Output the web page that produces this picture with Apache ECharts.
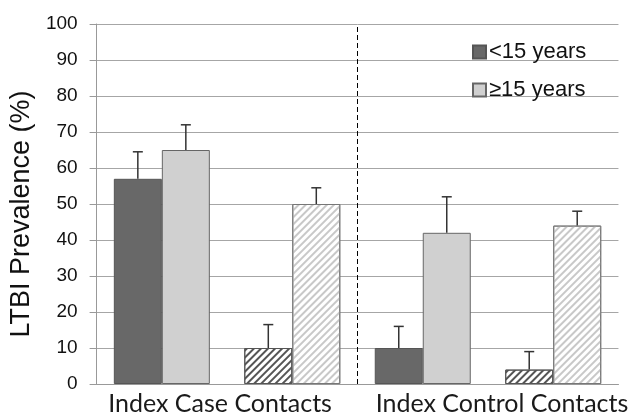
<!DOCTYPE html>
<html>
<head>
    <meta charset="utf-8">
    <title>LTBI Prevalence</title>
    <script src="https://cdn.jsdelivr.net/npm/echarts@6/dist/echarts.min.js"></script>
</head>
<body style="margin:0;">

<!-- chart container -->
<div id="chart1" style="width:630px;height:416px;"></div>

<script>
    // data
    var slots = ['case-solid', 'case-hatched', 'control-solid', 'control-hatched'];
    var groupLabels = ['Index Case Contacts', 'Index Control Contacts'];
    var seriesNames = ['<15 years', '\u226515 years'];
    var youngValues = [57, 10, 10, 4];
    var oldValues = [65, 50, 42, 44];
    var youngErrTop = [64.5, 16.5, 16, 9];
    var oldErrTop = [72, 54.5, 52, 48];
    var yTicks = [0, 10, 20, 30, 40, 50, 60, 70, 80, 90, 100];

    var barW = 48;
    var labelFont = {fontFamily: 'Lato', fontSize: 25, color: '#1a1a1a'};

    function hatch(color) {
        return {
            symbol: 'rect',
            symbolSize: 1,
            dashArrayX: [1, 0],
            dashArrayY: [2, 3],
            rotation: -Math.PI / 4,
            color: color
        };
    }

    // keep only solid slots (0,2) or hatched slots (1,3)
    function pick(values, hatched) {
        return values.map(function (v, i) { return (i % 2 === 1) === hatched ? v : '-'; });
    }

    function barSeries(name, stack, data, fill, border, stripe) {
        var style = {color: fill, borderColor: border, borderWidth: 1};
        if (stripe) style.decal = hatch(stripe);
        return {
            name: name,
            type: 'bar',
            xAxisIndex: 0,
            stack: stack,
            barWidth: barW,
            barGap: '0%',
            itemStyle: style,
            data: data
        };
    }

    function errorSeries(values, tops, shift) {
        return {
            type: 'custom',
            xAxisIndex: 0,
            silent: true,
            z: 5,
            data: values.map(function (v, i) { return [i, v, tops[i]]; }),
            renderItem: function (params, api) {
                var lo = api.coord([api.value(0), api.value(1)]);
                var hi = api.coord([api.value(0), api.value(2)]);
                var x = lo[0] + shift;
                var style = {stroke: '#333', lineWidth: 1.5};
                return {
                    type: 'group',
                    children: [
                        {type: 'line', shape: {x1: x, y1: lo[1], x2: x, y2: hi[1]}, style: style},
                        {type: 'line', shape: {x1: x - 5, y1: hi[1], x2: x + 5, y2: hi[1]}, style: style}
                    ]
                };
            }
        };
    }

    var myChart1 = echarts.init(document.getElementById('chart1'));

    myChart1.setOption({
        animation: false,
        backgroundColor: '#ffffff',
        grid: {left: 93, right: 10, top: 24, bottom: 32},
        legend: {
            orient: 'vertical',
            left: 467,
            top: 36,
            icon: 'rect',
            itemWidth: 13,
            itemHeight: 13,
            itemGap: 16,
            data: seriesNames,
            textStyle: {fontFamily: 'Liberation Sans', fontSize: 22, color: '#111', padding: [0, 0, 0, -2]}
        },
        xAxis: [{
            type: 'category',
            data: slots,
            axisLine: {lineStyle: {color: '#999'}},
            axisTick: {show: false},
            axisLabel: {show: false}
        }, {
            type: 'category',
            data: groupLabels,
            position: 'bottom',
            axisLine: {show: false},
            axisTick: {show: false},
            axisLabel: {
                interval: 0,
                margin: 7,
                formatter: function (v, i) { return i === 0 ? '{l|' + v + '}' : '{r|' + v + '}'; },
                rich: {
                    l: Object.assign({padding: [0, 14, 0, 0]}, labelFont),
                    r: Object.assign({padding: [0, 0, 0, 28]}, labelFont)
                }
            }
        }, {
            type: 'value',
            min: 0,
            max: 2,
            show: false
        }],
        yAxis: {
            type: 'value',
            min: 0,
            max: 100,
            interval: 10,
            name: 'LTBI Prevalence (%)',
            nameLocation: 'middle',
            nameGap: 60,
            nameTextStyle: {fontFamily: 'Liberation Sans', fontSize: 27, color: '#111', padding: [0, 20, 0, 0]},
            axisLine: {show: true, lineStyle: {color: '#999'}},
            axisTick: {show: true, length: 7, lineStyle: {color: '#999'}},
            axisLabel: {
                margin: 19,
                fontFamily: 'Liberation Sans',
                fontSize: 19,
                color: '#111',
                formatter: function (v) { return yTicks.indexOf(v) >= 0 ? String(v) : ''; }
            },
            splitLine: {lineStyle: {color: '#a6a6a6', width: 1}}
        },
        series: [
            barSeries(seriesNames[0], 'young', pick(youngValues, false), '#686868', '#555'),
            barSeries(seriesNames[1], 'old', pick(oldValues, false), '#d0d0d0', '#666'),
            barSeries('young hatched', 'young', pick(youngValues, true), '#ffffff', '#555', '#555'),
            barSeries('old hatched', 'old', pick(oldValues, true), '#ffffff', '#777', '#c8c8c8'),
            errorSeries(youngValues, youngErrTop, -barW / 2),
            errorSeries(oldValues, oldErrTop, barW / 2),
        {
            // dashed divider between the two groups
            type: 'line',
            xAxisIndex: 2,
            data: [],
            silent: true,
            markLine: {
                silent: true,
                symbol: 'none',
                label: {show: false},
                lineStyle: {color: '#000', width: 1, type: [5, 3]},
                data: [{xAxis: 1}]
            }
        }]
    });
</script>
</body>
</html>
